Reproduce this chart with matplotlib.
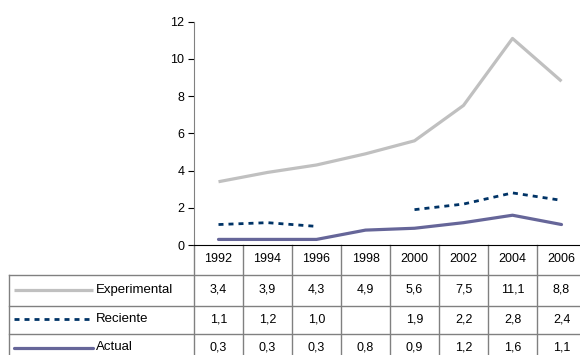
import matplotlib
matplotlib.use('Agg')

import numpy as np
import matplotlib.pyplot as plt
import matplotlib.transforms as mtransforms

plt.rcParams['font.family'] = ['Liberation Sans', 'DejaVu Sans']

years = ["1992", "1994", "1996", "1998", "2000", "2002", "2004", "2006"]
experimental = [3.4, 3.9, 4.3, 4.9, 5.6, 7.5, 11.1, 8.8]
reciente = [1.1, 1.2, 1.0, np.nan, 1.9, 2.2, 2.8, 2.4]
actual = [0.3, 0.3, 0.3, 0.8, 0.9, 1.2, 1.6, 1.1]
names = ["Experimental", "Reciente", "Actual"]

W, H = 580, 355
fig = plt.figure(figsize=(W / 100, H / 100), dpi=100)
# caja de ejes en pixeles: izq 194, der 586, abajo 245, arriba 21.7
ax = fig.add_axes([194 / W, (H - 245) / H, 392 / W, (245 - 21.7) / H])

x = np.arange(len(years))
styles = [
    dict(color="#C0C0C0", lw=2.3, solid_capstyle="butt"),
    dict(color="#003366", lw=2.0, dashes=(1.8, 1.8)),
    dict(color="#666699", lw=2.3, solid_capstyle="round"),
]
series = [experimental, reciente, actual]
for vals, st in zip(series, styles):
    ax.plot(x, vals, **st)

ax.set_xlim(-0.5, len(years) - 0.5)
ax.set_ylim(0, 12)
ax.set_yticks(range(0, 13, 2))
ax.tick_params(axis="y", labelsize=9, length=4, color="#000000", pad=3)
ax.set_xticks([])
for s in ["top", "right"]:
    ax.spines[s].set_visible(False)
ax.spines["left"].set_color("#808080")
ax.spines["bottom"].set_color("#000000")

# tabla de datos bajo los ejes
grid = "#808080"
trans = mtransforms.blended_transform_factory(ax.transData, fig.transFigure)
def fy(py):
    return (H - py) / H

rows_top = [245, 275, 306, 334, 363]
for i in range(len(years) + 1):
    ax.plot([i - 0.5, i - 0.5], [fy(245), fy(363)], color=grid, lw=1,
            transform=trans, clip_on=False)
for py in rows_top[1:]:
    fig.add_artist(plt.Line2D([9 / W, 1.0], [fy(py), fy(py)], color=grid, lw=1))
fig.add_artist(plt.Line2D([9 / W, 9 / W], [fy(275), fy(363)], color=grid, lw=1))

for i, yr in enumerate(years):
    ax.text(i, fy(259), yr, transform=trans, ha="center", va="center", fontsize=9)

for r, (name, vals, st) in enumerate(zip(names, series, styles)):
    yc = (rows_top[r + 1] + rows_top[r + 2]) / 2 - 1
    fig.add_artist(plt.Line2D([14 / W, 93 / W], [fy(yc), fy(yc)], **st))
    fig.text(96 / W, fy(yc), name, ha="left", va="center", fontsize=9.5)
    for i, v in enumerate(vals):
        if np.isnan(v):
            continue
        ax.text(i, fy(yc), f"{v:.1f}".replace(".", ","), transform=trans,
                ha="center", va="center", fontsize=9)

fig.savefig("out.png", dpi=100)
